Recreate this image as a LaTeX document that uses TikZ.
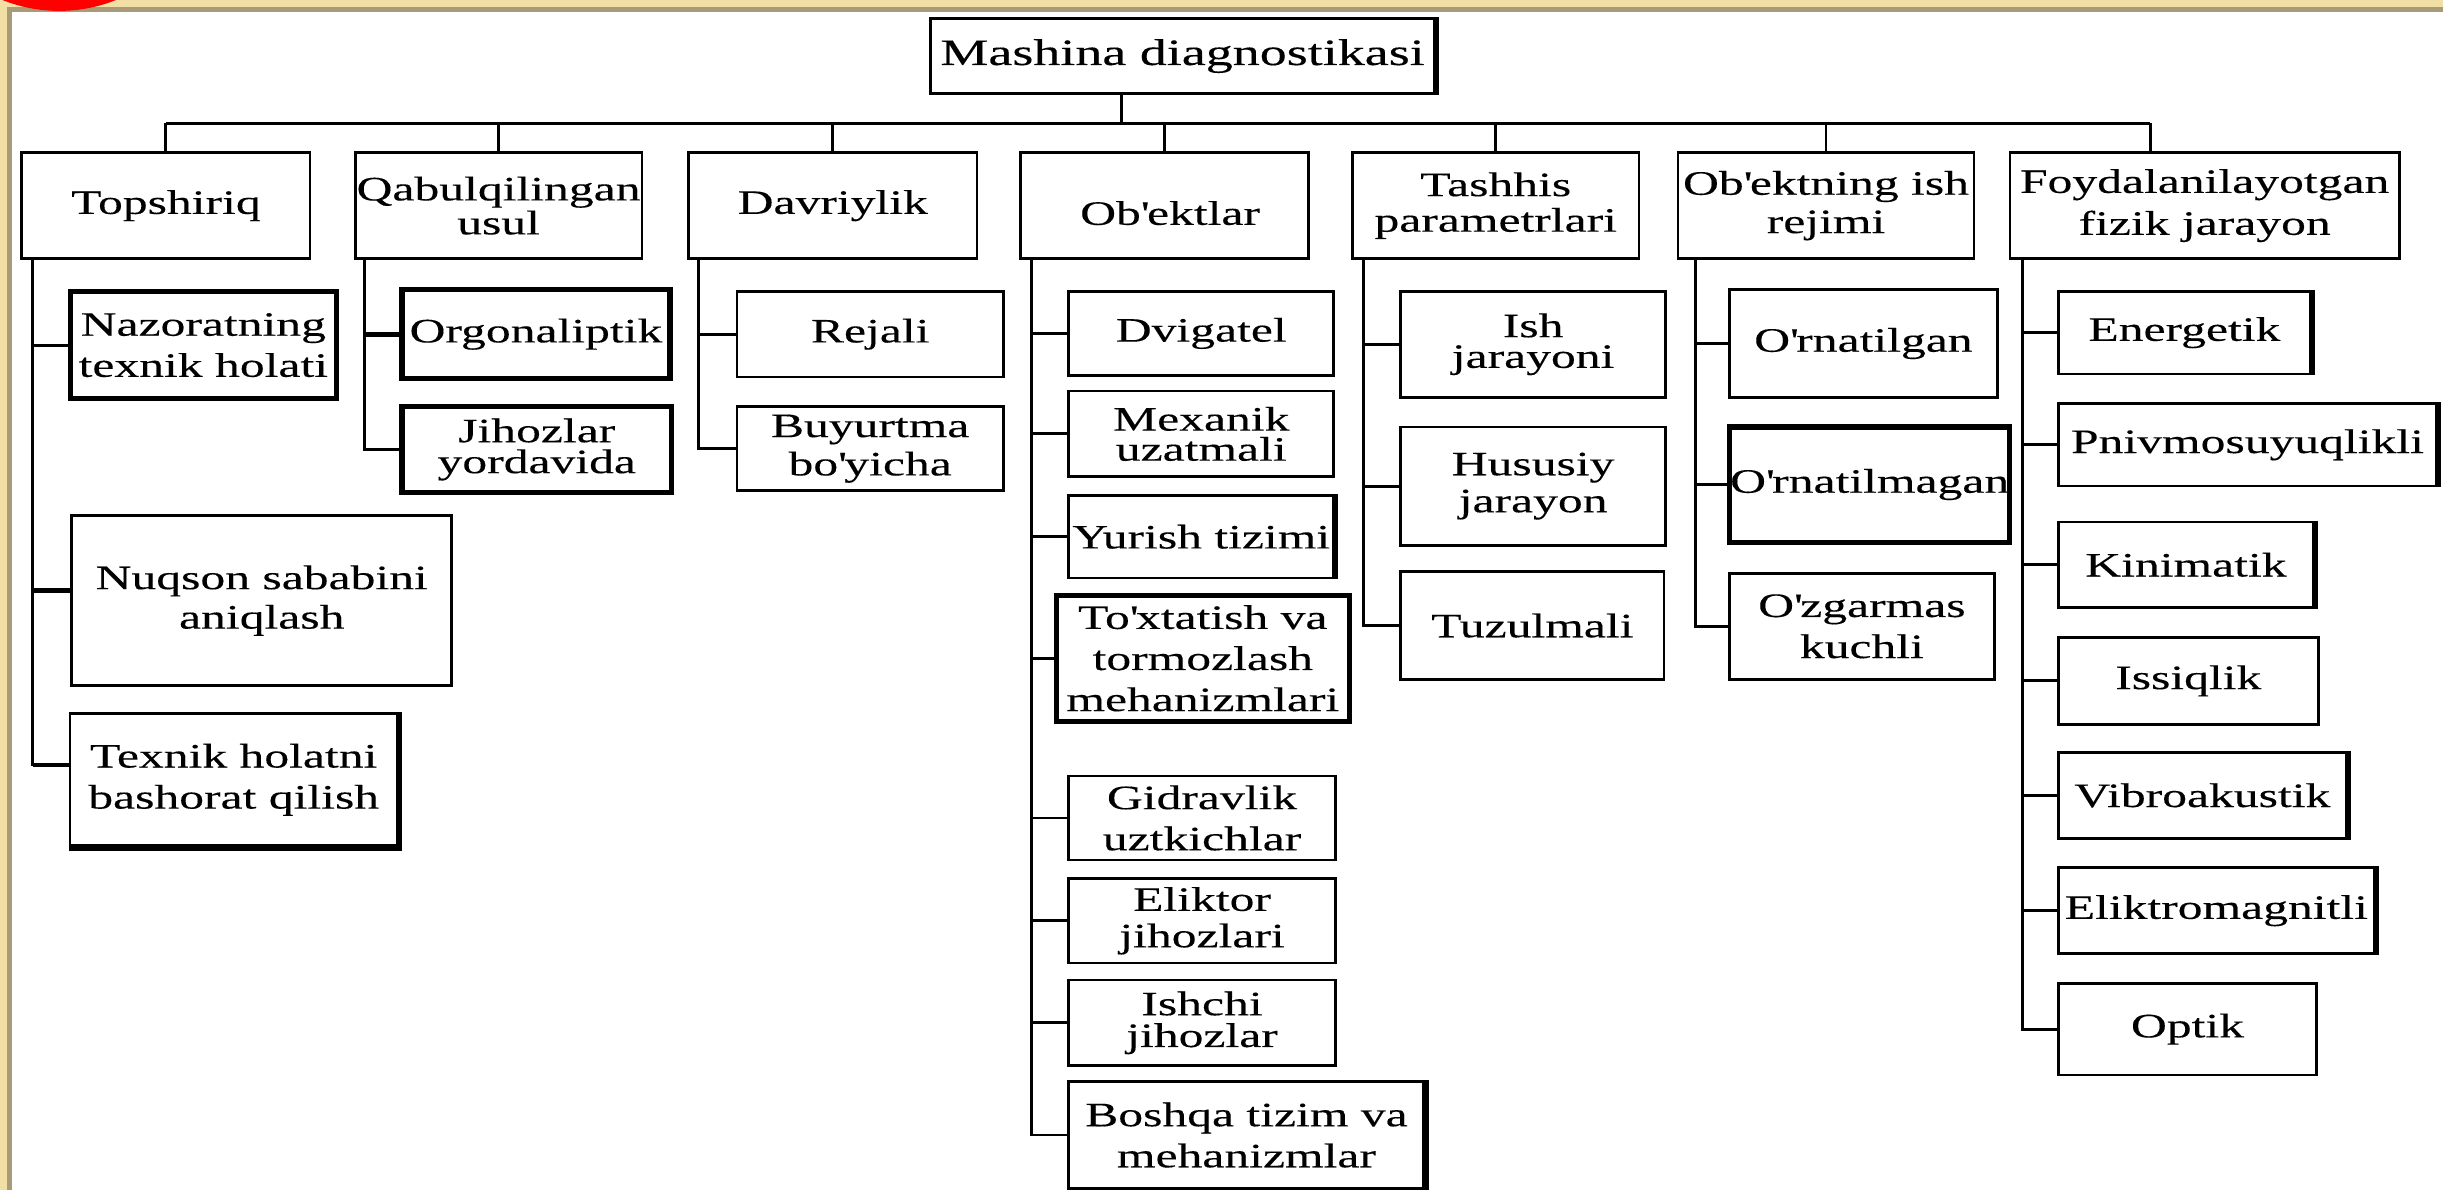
\documentclass[tikz,border=0pt]{standalone}
\usepackage{fontspec}
\setmainfont{Liberation Serif}[FakeStretch=1.45,FakeBold=0.25]
\definecolor{bgbeige}{HTML}{F2DFA6}
\definecolor{frametan}{HTML}{A89B78}
\newdimen\U \U=0.02cm
\newcommand\ap{\textquotesingle}
\newcommand\bx[7][]{\node[dbox,#1,minimum width={(#5-#3)*\U},minimum height={(#6-#4)*\U}] (#2) at ({(#3+#5)/2},{(#4+#6)/2}) {#7};}
\newcommand\stub[3][]{\draw[conn,#1] (#2) -- (#2 -| #3);}
\newcommand\redge[1]{\draw[redgestyle] (#1.north east) -- (#1.south east);}
\begin{document}
\begin{tikzpicture}[x=0.02cm,y=-0.02cm,
  dbox/.style={draw=black,line width=1pt,fill=white,align=center,inner sep=0pt,font=\fontsize{12.5}{14.5}\selectfont},
  thk/.style={line width=1.9pt},
  lsk/.style={font=\fontsize{12.5}{#1}\selectfont},
  conn/.style={line width=1.05pt},
  cthk/.style={line width=1.7pt},
  redgestyle/.style={line width=2.3pt}]
\useasboundingbox (0,0) rectangle (1568,764);
\clip (0,0) rectangle (1568,764);
% background frame
\fill[bgbeige] (0,0) rectangle (1568,764);
\fill[frametan] (4.5,4.5) rectangle (1568,764);
\fill[white] (7.7,7.7) rectangle (1568,764);
\fill[red] (38,-91) circle (98);

% root and level 1
\bx[font=\fontsize{13.6}{16}\selectfont]{root}{597}{12}{921}{60}{Mashina diagnostikasi}
\bx{t1}{14}{98}{199}{166}{Topshiriq}
\bx[lsk=12.4]{t2}{228}{98}{412}{166}{Qabulqilingan\\usul}
\bx{t3}{442}{98}{627}{166}{Davriylik}
\bx[text height=14pt,text depth=0pt]{t4}{655}{98}{840}{166}{\hspace*{7\U}Ob\ap ektlar}
\bx[lsk=13]{t5}{868}{98}{1052}{166}{Tashhis\\parametrlari}
\bx[lsk=14]{t6}{1077}{98}{1267}{166}{Ob\ap ektning ish\\rejimi}
\bx[lsk=15.3]{t7}{1290}{98}{1540}{166}{Foydalanilayotgan\\fizik jarayon}

% Topshiriq
\bx[thk,lsk=15]{a1}{45}{187}{216}{256}{Nazoratning\\texnik holati}
\bx[lsk=14.4]{a2}{46}{331}{290}{440}{Nuqson sababini\\aniqlash}
\bx[lsk=15]{a3}{45}{458}{255}{543}{Texnik holatni\\bashorat qilish}
% Qabulqilingan usul
\bx[thk]{b1}{258}{186}{430}{243}{Orgonaliptik}
\bx[thk,lsk=11.3]{b2}{258}{261}{431}{316}{Jihozlar\\yordavida}
% Davriylik
\bx{c1}{473}{187}{644}{242}{Rejali}
\bx[lsk=14]{c2}{473}{261}{644}{315}{Buyurtma\\bo\ap yicha}
% Ob'ektlar
\bx{d1}{686}{187}{856}{241}{Dvigatel}
\bx[lsk=11]{d2}{686}{251}{856}{306}{Mexanik\\uzatmali}
\bx{d3}{686}{318}{856}{371}{Yurish tizimi}
\bx[thk,lsk=15]{d4}{678}{382}{866}{463}{To\ap xtatish va\\tormozlash\\mehanizmlari}
\bx[lsk=15]{d5}{686}{498}{857}{552}{Gidravlik\\uztkichlar}
\bx[lsk=13.3]{d6}{686}{564}{857}{618}{Eliktor\\jihozlari}
\bx[lsk=11.6]{d7}{686}{629}{857}{684}{Ishchi\\jihozlar}
\bx[lsk=15]{d8}{686}{694}{914}{763}{Boshqa tizim va\\mehanizmlar}
% Tashhis parametrlari
\bx[lsk=11.2]{e1}{899}{187}{1069}{255}{Ish\\jarayoni}
\bx[lsk=13.5]{e2}{899}{274}{1069}{350}{Hususiy\\jarayon}
\bx{e3}{899}{367}{1068}{436}{Tuzulmali}
% Ob'ektning ish rejimi
\bx{f1}{1110}{186}{1282}{255}{O\ap rnatilgan}
\bx[thk]{f2}{1110}{274}{1290}{348}{O\ap rnatilmagan}
\bx[lsk=15]{f3}{1110}{368}{1280}{436}{O\ap zgarmas\\kuchli}
% Foydalanilayotgan fizik jarayon
\bx{g1}{1321}{187}{1483}{240}{Energetik}
\bx{g2}{1321}{259}{1564}{312}{Pnivmosuyuqlikli}
\bx{g3}{1321}{335}{1485}{390}{Kinimatik}
\bx{g4}{1321}{409}{1488}{465}{Issiqlik}
\bx{g5}{1321}{483}{1506}{538}{Vibroakustik}
\bx{g6}{1321}{557}{1524}{612}{Eliktromagnitli}
\bx{g7}{1321}{631}{1487}{690}{Optik}

% thicker right edges
\foreach \n in {root,d3,d8,g1,g2,g3,g5,g6} {\redge{\n}}
\draw[redgestyle] (a3.north east) -- (a3.south east) -- (a3.south west);

% top bus
\coordinate (rv) at ([xshift=-39*\U]root.south);
\coordinate (bus) at (0,79);
\coordinate (g7d) at ([xshift=-35*\U]t7.north);
\draw[conn] (rv) -- (rv |- bus);
\draw[conn] (t1.north |- bus) -- (g7d |- bus);
\foreach \n in {t1,t2,t3,t4,t5,t6} {\draw[conn] (\n.north |- bus) -- (\n.north);}
\draw[conn] (g7d |- bus) -- (g7d);

% Topshiriq branch
\coordinate (tv) at ([xshift=8*\U]t1.south west);
\coordinate (a2c) at ([yshift=6.5*\U]a2.west);
\coordinate (a3c) at ([yshift=9.5*\U]a3.west);
\draw[conn] (tv) |- (a3c);
\stub{a1.west}{tv}
\stub[cthk]{a2c}{tv}
\stub[cthk]{a3c}{tv}
% Qabul branch
\coordinate (qv) at ([xshift=7*\U]t2.south west);
\draw[conn] (qv) |- (b2.west);
\stub[cthk]{b1.west}{qv}
% Davriylik branch
\coordinate (dv) at ([xshift=7*\U]t3.south west);
\draw[conn] (dv) |- (c2.west);
\stub{c1.west}{dv}
% Ob'ektlar branch
\coordinate (ov) at ([xshift=8*\U]t4.south west);
\draw[conn] (ov) |- (d8.west);
\foreach \n in {d1,d2,d3,d4,d5,d6,d7} {\stub{\n.west}{ov}}
% Tashhis branch
\coordinate (sv) at ([xshift=8*\U]t5.south west);
\draw[conn] (sv) |- (e3.west);
\foreach \n in {e1,e2} {\stub{\n.west}{sv}}
% Ob'ektning branch
\coordinate (jv) at ([xshift=12*\U]t6.south west);
\draw[conn] (jv) |- (f3.west);
\foreach \n in {f1,f2} {\stub{\n.west}{jv}}
% Foydalanilayotgan branch
\coordinate (fv) at ([xshift=9*\U]t7.south west);
\draw[conn] (fv) |- (g7.west);
\foreach \n in {g1,g2,g3,g4,g5,g6} {\stub{\n.west}{fv}}
\end{tikzpicture}
\end{document}
